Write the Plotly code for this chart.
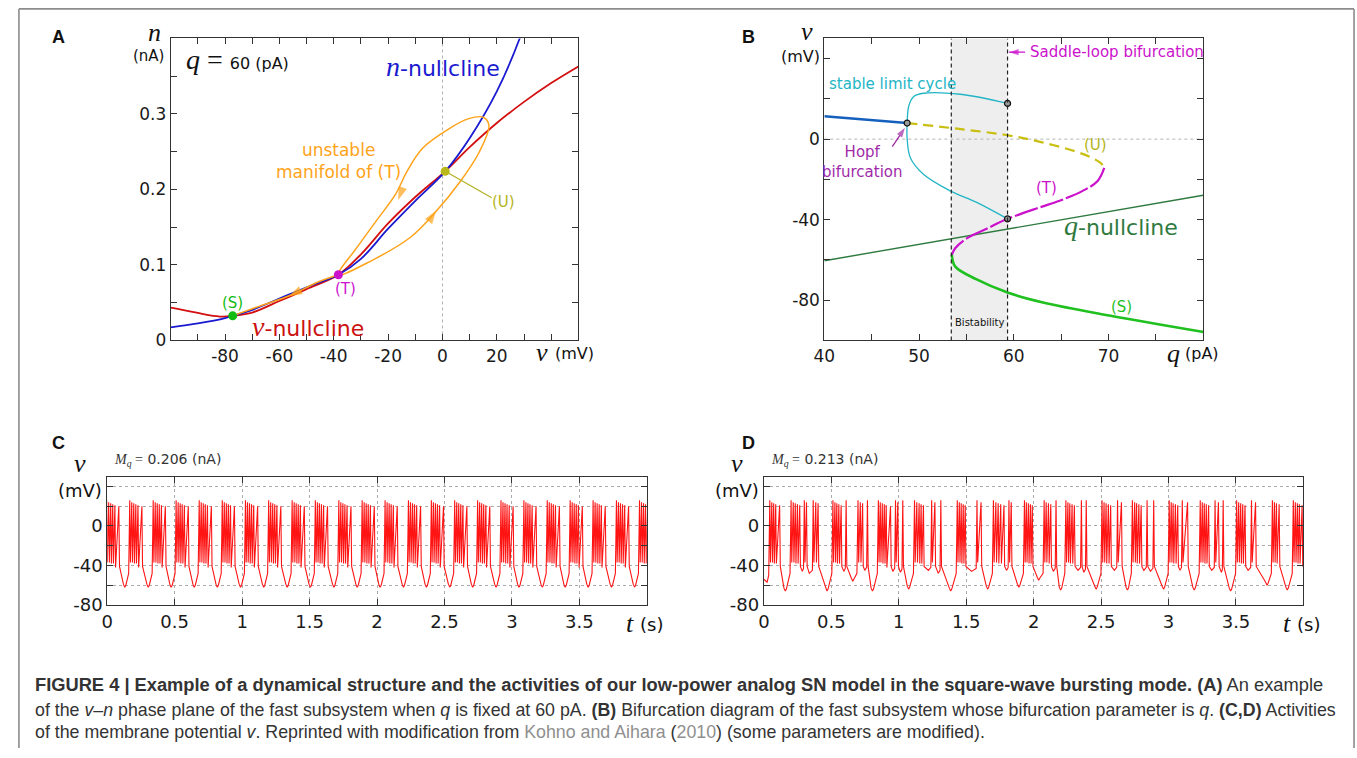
import plotly.graph_objects as go

W, H = 1357, 758

# ---------------- Panel A : v-n phase plane (q = 60 pA) ----------------
A_red_v = [-100, -92, -86, -81, -77.2, -70, -60, -50, -38.3, -30, -20, -10, 1.0, 10, 20, 30, 40, 50]
A_red_n = [0.0435, 0.038, 0.0335, 0.0315, 0.0326, 0.037, 0.0522, 0.068, 0.087, 0.114, 0.155, 0.19, 0.224, 0.256, 0.288, 0.316, 0.341, 0.363]
A_blue_v = [-100, -90, -80, -77.2, -70, -60, -50, -38.3, -30, -20, -10, 1.0, 10, 20, 28.4, 32]
A_blue_n = [0.0174, 0.0225, 0.0295, 0.0326, 0.0405, 0.0555, 0.0705, 0.087, 0.108, 0.148, 0.185, 0.224, 0.268, 0.33, 0.4, 0.44]
A_loop_v = [-38.3, -25.7, -11.65, -3.2, 6.6, 13.6, 17.1, 15.0, 9.4, 2.4, -7.4, -13.05, -17.3, -24.3, -31.3, -38.3]
A_loop_n = [0.087, 0.1065, 0.137, 0.1674, 0.2109, 0.25, 0.2848, 0.2957, 0.2935, 0.2804, 0.2544, 0.224, 0.1935, 0.1587, 0.1239, 0.087]
A_left_v = [-38.3, -46.7, -55.2, -67.8, -77.2]
A_left_n = [0.087, 0.0761, 0.0609, 0.0448, 0.0326]
A_pts_v = [-77.2, -38.3, 1.0]
A_pts_n = [0.0326, 0.087, 0.224]
A_pts_names = ["(S)", "(T)", "(U)"]
# arrowheads on the unstable manifold: (tail point, head point)
A_arrows = [((-13.6, 0.212), (-16.3, 0.186)), ((-6.0, 0.153), (-2.3, 0.172)), ((-50.0, 0.0705), (-56.5, 0.0587))]

# ---------------- Panel B : bifurcation diagram ----------------
B_stable_q = [40, 48.74]
B_stable_v = [11.4, 8.0]
B_U_q = [48.74, 54.0, 59.34, 63.0, 66.57, 68.3, 69.2, 69.55]
B_U_v = [8.0, 5.2, 1.95, -1.6, -6.2, -9.4, -12.0, -14.3]
B_T_q = [69.55, 68.85, 67.27, 64.83, 62.73, 59.34, 57.13, 55.03, 53.81, 53.46]
B_T_v = [-14.3, -20.8, -25.7, -30.6, -33.9, -39.6, -44.5, -49.3, -54.2, -57.5]
B_S_q = [53.46, 53.8, 56.08, 59.34, 63.08, 70.07, 80.03]
B_S_v = [-57.5, -63.2, -69.7, -76.2, -81.1, -87.6, -95.8]
B_lc_q = [59.34, 54.34, 50.49, 49.44, 48.92, 48.74, 48.74, 49.09, 50.49, 53.29, 56.08, 59.34]
B_lc_v = [17.75, 22.3, 22.8, 21.2, 16.6, 8.0, 0.3, -9.4, -17.6, -25.7, -31.4, -39.6]
B_qnull_q = [40, 80]
B_qnull_v = [-60.4, -27.85]
B_marks_q = [48.74, 59.34, 59.34]
B_marks_v = [8.0, 17.75, -39.6]
B_bistab = [53.4, 59.34]
B_saddle_arrow = ((61.2, 43.2), (59.5, 43.2))
B_hopf_arrow = ((47.17, -3.75), (48.5, 5.6))

# ---------------- Panel C : Mq = 0.206 nA ----------------
C_onsets = [-0.004, 0.167, 0.341, 0.511, 0.682, 0.853, 1.025, 1.197, 1.371, 1.543, 1.717, 1.89,
            2.06, 2.233, 2.403, 2.576, 2.746, 2.919, 3.089, 3.262, 3.432, 3.602, 3.775, 3.946]
C_offsets = [0.0, 0.015, 0.030, 0.045, 0.061, 0.090]
C_deep = -62
PEAKS = [26, 24, 23, 22, 21, 20]
INNER = [-37, -37, -38, -38, -42]

# ---------------- Panel D : Mq = 0.213 nA ----------------
D_start_t = [0.0, 0.024, 0.036]
D_start_v = [-54, -57, -50]
D_groups = [
    [0.044, 0.059, 0.073, 0.088, 0.117], [0.202, 0.218, 0.233, 0.249, 0.266], [0.300, 0.316],
    [0.366, 0.385, 0.402], [0.512, 0.527, 0.541, 0.556, 0.573], [0.610], [0.698, 0.715, 0.732],
    [0.768], [0.849, 0.863, 0.878, 0.893, 0.907, 0.939], [0.976, 0.993], [1.030],
    [1.117, 1.134, 1.151, 1.166, 1.183], [1.244, 1.268], [1.312], [1.434, 1.449, 1.463, 1.478, 1.493],
    [1.58, 1.61], [1.702, 1.72, 1.737, 1.756, 1.78], [1.817, 1.834], [1.932, 1.946, 1.961, 1.976, 1.99],
    [2.078, 2.093, 2.11, 2.127], [2.166], [2.239, 2.254, 2.268, 2.285, 2.302], [2.354], [2.39],
    [2.507, 2.522, 2.537, 2.554, 2.571], [2.622, 2.651], [2.732, 2.749, 2.763, 2.78, 2.797], [2.841],
    [2.89], [3.005, 3.02, 3.034, 3.051, 3.068], [3.102, 3.141], [3.235, 3.25, 3.265, 3.28, 3.297],
    [3.345, 3.37], [3.405], [3.505, 3.52, 3.535, 3.55, 3.567], [3.615, 3.645],
    [3.77, 3.785, 3.8, 3.82], [3.925, 3.94, 3.955, 3.97, 3.99],
]
D_trough_t = [0.159, 0.285, 0.337, 0.468, 0.593, 0.659, 0.748, 0.805, 0.956, 1.012, 1.073, 1.22, 1.293,
              1.385, 1.54, 1.659, 1.80, 1.89, 2.037, 2.146, 2.2, 2.329, 2.372, 2.463, 2.598, 2.695,
              2.817, 2.866, 2.963, 3.085, 3.19, 3.32, 3.392, 3.46, 3.59, 3.73, 3.88]
D_trough_v = [-66, -46, -48, -66, -46, -56, -45, -66, -46, -47, -64, -45, -48, -66, -46, -64, -45, -62,
              -55, -46, -65, -45, -47, -64, -45, -65, -45, -46, -64, -45, -65, -45, -47, -66, -45, -60, -65]


def build_trace(groups, trough_t, trough_v, start_t, start_v):
    ts, vs = list(start_t), list(start_v)
    for gi, g in enumerate(groups):
        for k, s in enumerate(g):
            ts.append(s)
            vs.append(PEAKS[min(k, len(PEAKS) - 1)])
            if k < len(g) - 1:
                ts.append(s + 0.005)
                vs.append(INNER[min(k, len(INNER) - 1)])
        last = g[-1]
        ts.append(last + 0.005)
        vs.append(-41)
        if gi < len(trough_t):
            tt, tv = trough_t[gi], trough_v[gi]
            nxt = groups[gi + 1][0]
            if tv < -52:
                ts += [tt - 0.01, tt, tt + 0.008, nxt - 0.008]
                vs += [tv + 3, tv, tv + 2, -48]
            else:
                ts += [tt, nxt - 0.006]
                vs += [tv, tv + 3]
    return ts, vs


C_groups = [[o + d for d in C_offsets] for o in C_onsets]
C_trough_t = [C_onsets[i + 1] - 0.037 for i in range(len(C_onsets) - 1)]
C_trough_v = [C_deep] * len(C_trough_t)
C_t, C_v = build_trace(C_groups, C_trough_t, C_trough_v, [], [])
D_t, D_v = build_trace(D_groups, D_trough_t, D_trough_v, D_start_t, D_start_v)

# ---------------- figure ----------------
def px(x):
    return x / W


def py(y):
    return 1 - y / H


RED = "#d40f0f"
BLUE = "#1a1ad0"
ORANGE = "#ffa31a"
fig = go.Figure()


def arrow_trace(xa, ya, tail, head, color, width, size, shaft=True):
    fig.add_trace(go.Scatter(x=[tail[0], head[0]], y=[tail[1], head[1]], mode="lines+markers",
                             line=dict(color=color, width=width if shaft else 0),
                             marker=dict(symbol="arrow", size=[0, size], angleref="previous", color=color,
                                         line=dict(width=0)),
                             xaxis=xa, yaxis=ya, hoverinfo="skip"))


# Panel A traces
fig.add_trace(go.Scatter(x=A_red_v, y=A_red_n, mode="lines", line=dict(color=RED, width=1.8, shape="spline", smoothing=1.0), xaxis="x", yaxis="y"))
fig.add_trace(go.Scatter(x=A_blue_v, y=A_blue_n, mode="lines", line=dict(color=BLUE, width=1.8, shape="spline", smoothing=1.0), xaxis="x", yaxis="y"))
fig.add_trace(go.Scatter(x=A_loop_v, y=A_loop_n, mode="lines", line=dict(color=ORANGE, width=1.5, shape="spline", smoothing=1.0), xaxis="x", yaxis="y"))
fig.add_trace(go.Scatter(x=A_left_v, y=A_left_n, mode="lines", line=dict(color=ORANGE, width=1.5, shape="spline", smoothing=1.0), xaxis="x", yaxis="y"))
fig.add_trace(go.Scatter(x=[A_pts_v[2], 18.1], y=[A_pts_n[2], 0.189], mode="lines", line=dict(color="#b0b020", width=1.2), xaxis="x", yaxis="y"))
fig.add_trace(go.Scatter(x=A_pts_v, y=A_pts_n, mode="markers", marker=dict(color=["#11bb11", "#cc11cc", "#b8b81a"], size=9), xaxis="x", yaxis="y"))
for tail, head in A_arrows:
    arrow_trace("x", "y", tail, head, ORANGE, 1.5, 14, shaft=False)

# Panel B traces
fig.add_trace(go.Scatter(x=B_qnull_q, y=B_qnull_v, mode="lines", line=dict(color="#2f7a40", width=1.4), xaxis="x2", yaxis="y2"))
fig.add_trace(go.Scatter(x=B_stable_q, y=B_stable_v, mode="lines", line=dict(color="#1560bd", width=2.6), xaxis="x2", yaxis="y2"))
fig.add_trace(go.Scatter(x=B_U_q, y=B_U_v, mode="lines", line=dict(color="#c8bf10", width=2.2, dash="10px,6px", shape="spline"), xaxis="x2", yaxis="y2"))
fig.add_trace(go.Scatter(x=B_T_q, y=B_T_v, mode="lines", line=dict(color="#cc11cc", width=2.2, dash="24px,3px", shape="spline"), xaxis="x2", yaxis="y2"))
fig.add_trace(go.Scatter(x=B_S_q, y=B_S_v, mode="lines", line=dict(color="#1fc01f", width=2.6, shape="spline"), xaxis="x2", yaxis="y2"))
fig.add_trace(go.Scatter(x=B_lc_q, y=B_lc_v, mode="lines", line=dict(color="#22b5c5", width=1.3, shape="spline"), xaxis="x2", yaxis="y2"))
fig.add_trace(go.Scatter(x=B_marks_q, y=B_marks_v, mode="markers", marker=dict(color="#9a9a9a", size=6, line=dict(color="#111", width=1.2)), xaxis="x2", yaxis="y2"))
arrow_trace("x2", "y2", B_saddle_arrow[0], B_saddle_arrow[1], "#cc11cc", 1.3, 10)
arrow_trace("x2", "y2", B_hopf_arrow[0], B_hopf_arrow[1], "#a02aa8", 1.3, 10)

# Panels C, D
fig.add_trace(go.Scatter(x=C_t, y=C_v, mode="lines", line=dict(color="#ff1414", width=1.1), xaxis="x3", yaxis="y3"))
fig.add_trace(go.Scatter(x=D_t, y=D_v, mode="lines", line=dict(color="#ff1414", width=1.1), xaxis="x4", yaxis="y4"))

TICKFONT = dict(family="DejaVu Sans", size=17, color="#1a1a1a")
TICKFONT2 = dict(family="DejaVu Sans", size=18, color="#1a1a1a")
common = dict(showline=True, linecolor="#333", linewidth=1, mirror="allticks", ticks="inside", ticklen=6,
              tickcolor="#333", zeroline=False)

A_xt = list(range(-90, 50, 10))
A_yt = [0, 0.05, 0.1, 0.15, 0.2, 0.25, 0.3, 0.35]
B_xt = [40, 45, 50, 55, 60, 65, 70, 75]
B_yt = [-80, -60, -40, -20, 0, 20, 40]
T_xt = [0, 0.5, 1, 1.5, 2, 2.5, 3, 3.5, 4]
T_yt = [-80, -60, -40, -20, 0, 20, 40]
T_xtext = ["0", "0.5", "1", "1.5", "2", "2.5", "3", "3.5", ""]
T_ytext = ["-80", "", "-40", "", "0", "", ""]
tgrid = dict(showgrid=True, gridcolor="#aaaaaa", griddash="dot", gridwidth=1, tickfont=TICKFONT2)

fig.update_layout(
    width=W, height=H, margin=dict(l=0, r=0, t=0, b=0), showlegend=False,
    paper_bgcolor="white", plot_bgcolor="white",
    xaxis=dict(domain=[px(161), px(572)], range=[-100, 50], tickvals=A_xt,
               ticktext=[str(v) if v in (-80, -60, -40, -20, 0, 20) else "" for v in A_xt], anchor="y",
               showgrid=False, tickfont=TICKFONT, **common),
    yaxis=dict(domain=[py(345), py(39)], range=[0, 0.4], tickvals=A_yt,
               ticktext=["0", "", "0.1", "", "0.2", "", "0.3", ""], anchor="x", showgrid=False, tickfont=TICKFONT, **common),
    xaxis2=dict(domain=[px(820), px(1202)], range=[40, 80], tickvals=B_xt,
                ticktext=["40", "", "50", "", "60", "", "70", ""], anchor="y2", showgrid=False, tickfont=TICKFONT, **common),
    yaxis2=dict(domain=[py(345), py(39)], range=[-100, 50], tickvals=B_yt,
                ticktext=["-80", "", "-40", "", "0", "", ""], anchor="x2", showgrid=False, tickfont=TICKFONT, **common),
    xaxis3=dict(domain=[px(97), px(641)], range=[0, 4], tickvals=T_xt, ticktext=T_xtext, anchor="y3", **tgrid, **common),
    yaxis3=dict(domain=[py(613), py(483)], range=[-80, 50], tickvals=T_yt, ticktext=T_ytext, anchor="x3", **tgrid, **common),
    xaxis4=dict(domain=[px(759), px(1303)], range=[0, 4], tickvals=T_xt, ticktext=T_xtext, anchor="y4", **tgrid, **common),
    yaxis4=dict(domain=[py(613), py(483)], range=[-80, 50], tickvals=T_yt, ticktext=T_ytext, anchor="x4", **tgrid, **common),
)

FRAME = dict(color="#8c8c8c", width=1.6)
shapes = [
    # outer frame (left, top, right edges; bottom lies below the picture)
    dict(type="line", xref="paper", yref="paper", x0=px(8), x1=px(8), y0=0, y1=py(9), line=FRAME),
    dict(type="line", xref="paper", yref="paper", x0=px(8), x1=px(1354), y0=py(9), y1=py(9), line=FRAME),
    dict(type="line", xref="paper", yref="paper", x0=px(1354), x1=px(1354), y0=0, y1=py(9), line=FRAME),
    # panel A: v = 0 dotted line
    dict(type="line", xref="x", yref="y", x0=0, x1=0, y0=0, y1=0.4, line=dict(color="#b0b0b0", width=1, dash="dot"), layer="below"),
    # panel B: bistability band
    dict(type="rect", xref="x2", yref="y2", x0=B_bistab[0], x1=B_bistab[1], y0=-100, y1=50,
         fillcolor="#eeeeee", line=dict(width=0), layer="below"),
    dict(type="line", xref="x2", yref="y2", x0=40, x1=80, y0=0, y1=0, line=dict(color="#b5b5b5", width=1, dash="dot"), layer="below"),
    dict(type="line", xref="x2", yref="y2", x0=B_bistab[0], x1=B_bistab[0], y0=-100, y1=50, line=dict(color="#222", width=1.2, dash="4px,3px")),
    dict(type="line", xref="x2", yref="y2", x0=B_bistab[1], x1=B_bistab[1], y0=-100, y1=50, line=dict(color="#222", width=1.2, dash="4px,3px")),
]
fig.update_layout(shapes=shapes)

SERIF = "Liberation Serif"
SANS = "DejaVu Sans"
ann = []


def pa(x, y, text, size=16, color="#111", family=SANS, xanchor="center", yanchor="middle"):
    ann.append(dict(x=px(x), y=py(y), xref="paper", yref="paper", text=text, showarrow=False,
                    font=dict(family=family, size=size, color=color), xanchor=xanchor, yanchor=yanchor))


def da(xr, yr, x, y, text, size=16, color="#111", family=SANS, xanchor="center", yanchor="middle"):
    ann.append(dict(x=x, y=y, xref=xr, yref=yr, text=text, showarrow=False,
                    font=dict(family=family, size=size, color=color), xanchor=xanchor, yanchor=yanchor))


# panel letters
for (x, y, t) in [(48, 38, "A"), (744, 37, "B"), (48, 449, "C"), (744, 449, "D")]:
    pa(x, y, "<b>%s</b>" % t, size=18, color="#111", family="Liberation Sans")

# Panel A labels
pa(145, 33, "<i>n</i>", size=26, family=SERIF)
pa(139, 57, "(nA)", size=15)
pa(535, 357, "<i>v</i>", size=26, family=SERIF)
pa(568, 358, "(mV)", size=16)
da("x", "y", -95, 0.372, "<span style='font-family:Liberation Serif;font-size:28px'><i>q</i> = </span>60 (pA)", size=16, xanchor="left")
da("x", "y", 0.3, 0.363, "<span style='font-family:Liberation Serif;font-size:28px'><i>n</i></span>-nullcline", size=22, color=BLUE)
da("x", "y", -49.5, 0.0187, "<span style='font-family:Liberation Serif;font-size:28px'><i>v</i></span>-nullcline", size=22, color="#cc1111")
da("x", "y", -38.3, 0.238, "unstable<br>manifold of (T)", size=17, color=ORANGE)
da("x", "y", -77.2, 0.05, "(S)", size=15, color="#11bb11")
da("x", "y", -35.8, 0.0683, "(T)", size=15, color="#cc11cc")
da("x", "y", 22.3, 0.1835, "(U)", size=15, color="#b5b520")

# Panel B labels
pa(803, 32, "<i>v</i>", size=26, family=SERIF)
pa(796, 57, "(mV)", size=16)
pa(1172, 358, "<i>q</i>", size=26, family=SERIF)
pa(1201, 358, "(pA)", size=16)
da("x2", "y2", 47.17, 27.5, "stable limit cycle", size=15, color="#22b5c5")
da("x2", "y2", 61.5, 43.2, "Saddle-loop bifurcation", size=15, color="#cc11cc", xanchor="left")
da("x2", "y2", 44.0, -11.2, "Hopf<br>bifurcation", size=15, color="#a02aa8")
da("x2", "y2", 68.6, -2.9, "(U)", size=15, color="#b5b520")
da("x2", "y2", 63.5, -24.4, "(T)", size=15, color="#cc11cc")
da("x2", "y2", 71.4, -83.6, "(S)", size=15, color="#1fc01f")
da("x2", "y2", 71.3, -42.8, "<span style='font-family:Liberation Serif;font-size:28px'><i>q</i></span>-nullcline", size=22, color="#2f7a40")
da("x2", "y2", 56.4, -91, "Bistability", size=10, color="#111")

# Panels C, D labels
for x0, mq in [(97, "0.206"), (759, "0.213")]:
    pa(x0 + 5, 466, "<span style='font-family:Liberation Serif'><i>M<sub>q</sub></i> =</span> %s (nA)" % mq, size=14, color="#333", xanchor="left")
    pa(x0 - 27, 470, "<i>v</i>", size=26, family=SERIF)
    pa(x0 - 27, 497, "(mV)", size=18)
    pa(x0 + 527, 632, "<i>t</i>", size=26, family=SERIF)
    pa(x0 + 549, 633, "(s)", size=18)

# caption
CAP = "Liberation Sans"
GR = "<span style='color:#8f8f8f'>"
pa(22, 694, "<b>FIGURE 4 | Example of a dynamical structure and the activities of our low-power analog SN model in the square-wave bursting mode. (A)</b> An example",
   size=18.3, color="#333", family=CAP, xanchor="left")
pa(22, 719, "of the <i>v</i>–<i>n</i> phase plane of the fast subsystem when <i>q</i> is fixed at 60 pA. <b>(B)</b> Bifurcation diagram of the fast subsystem whose bifurcation parameter is <i>q</i>. <b>(C,D)</b> Activities",
   size=17.8, color="#333", family=CAP, xanchor="left")
pa(22, 742, "of the membrane potential <i>v</i>. Reprinted with modification from " + GR + "Kohno and Aihara</span> (" + GR + "2010</span>) (some parameters are modified).",
   size=17.8, color="#333", family=CAP, xanchor="left")

fig.update_layout(annotations=ann)
fig.write_html("out.html", config={"displayModeBar": False, "staticPlot": True},
               post_script="document.body.style.margin='0px';document.body.style.padding='0px';document.body.style.overflow='hidden';")
